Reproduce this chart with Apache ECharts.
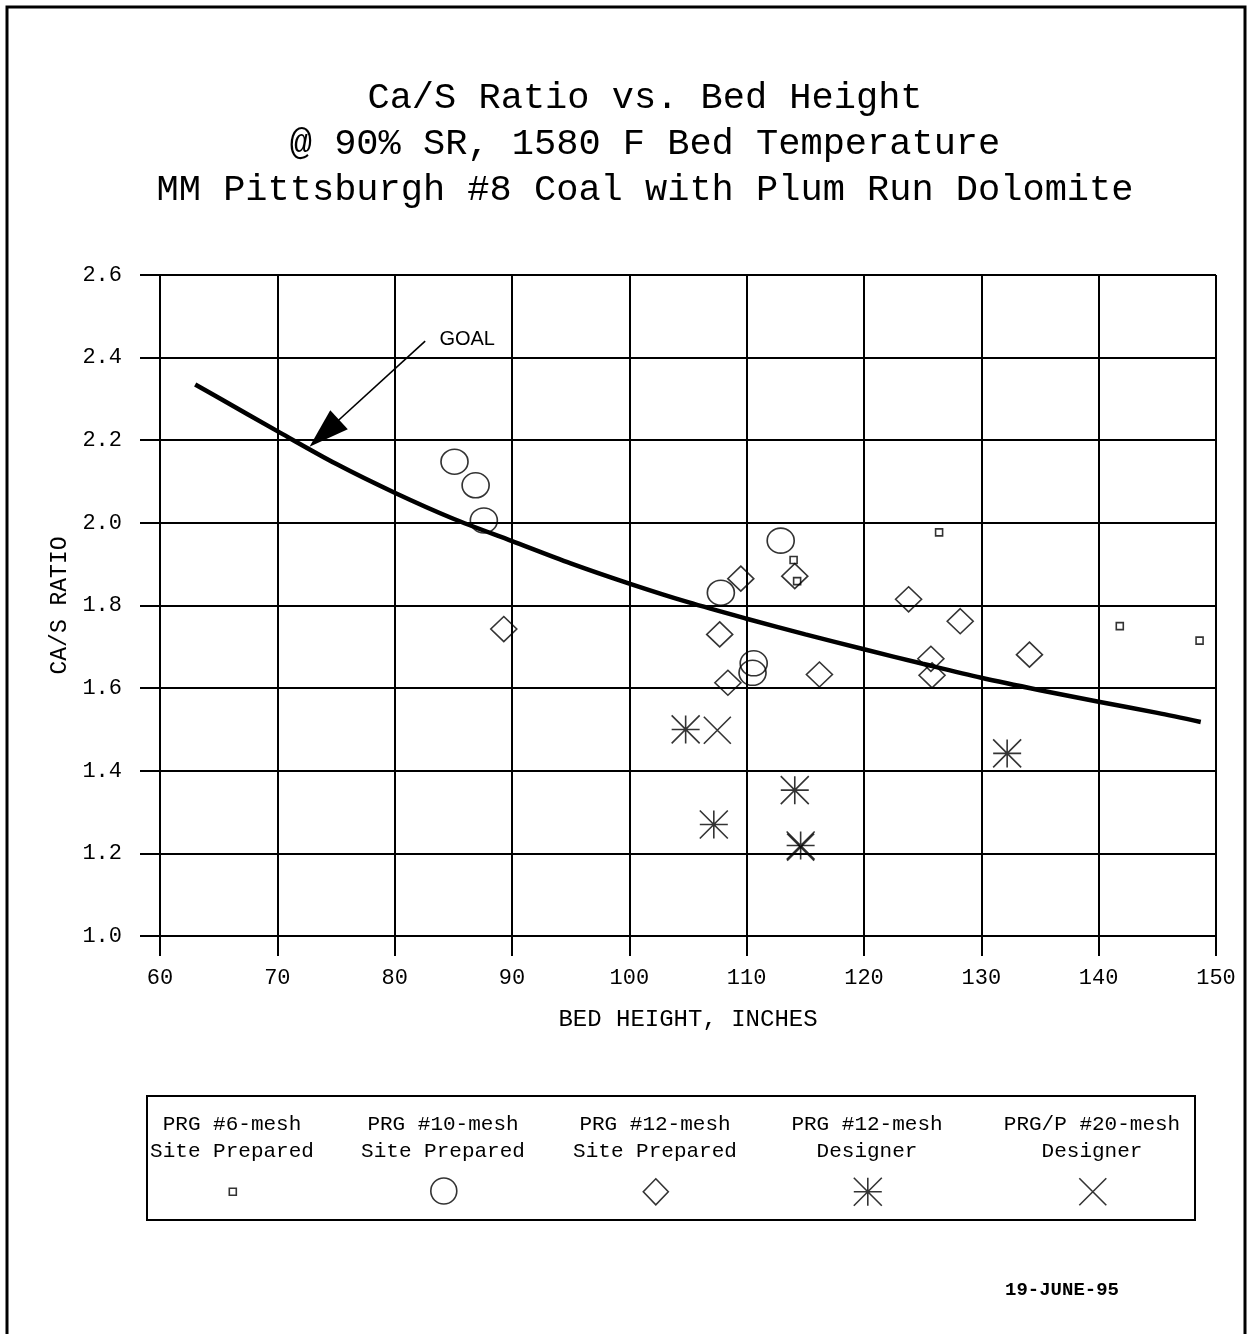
<!DOCTYPE html>
<html>
<head>
<meta charset="utf-8">
<title>Ca/S Ratio vs. Bed Height</title>
<script src="https://cdn.jsdelivr.net/npm/echarts@6/dist/echarts.min.js"></script>
<style>
  html, body { margin: 0; padding: 0; background: #fff; }
  #chart { width: 1249px; height: 1334px; }
</style>
</head>
<body>
<div id="chart"></div>
<script>
// Axis ticks
const xTicks = [60, 70, 80, 90, 100, 110, 120, 130, 140, 150];
const yTicks = ['1.0', '1.2', '1.4', '1.6', '1.8', '2.0', '2.2', '2.4', '2.6'];

// PRG #6-mesh, site prepared
const mesh6SiteX = [126.4, 114.0, 114.3, 141.8, 148.6];
const mesh6SiteY = [1.977, 1.910, 1.859, 1.750, 1.715];

// PRG #10-mesh, site prepared
const mesh10SiteX = [85.1, 86.9, 87.6, 112.9, 107.8, 110.6, 110.5];
const mesh10SiteY = [2.148, 2.091, 2.006, 1.957, 1.831, 1.660, 1.637];

// PRG #12-mesh, site prepared
const mesh12SiteX = [89.3, 109.5, 114.1, 107.7, 108.4, 116.2, 123.8, 128.2, 125.7, 125.8, 134.1];
const mesh12SiteY = [1.743, 1.865, 1.871, 1.730, 1.613, 1.633, 1.815, 1.762, 1.671, 1.631, 1.681];

// PRG #12-mesh, designer
const mesh12DesX = [104.8, 107.2, 114.1, 114.6, 132.2];
const mesh12DesY = [1.500, 1.270, 1.353, 1.219, 1.442];

// PRG/P #20-mesh, designer
const mesh20DesX = [107.5, 114.6];
const mesh20DesY = [1.498, 1.215];

// Goal curve
const goalX = [63, 65, 70, 75, 80, 85, 90, 95, 100, 105, 110, 115, 120, 125, 130, 135, 140, 145, 148.7];
const goalY = [2.335, 2.303, 2.222, 2.143, 2.073, 2.010, 1.956, 1.902, 1.853, 1.808, 1.768, 1.730, 1.694, 1.659, 1.625, 1.595, 1.567, 1.540, 1.518];

// "GOAL" callout: arrow tail, arrow head, label anchor (data units)
const goalArrowFrom = [82.6, 2.440];
const goalArrowTo = [74.0, 2.217];
const goalLabelAt = [83.6, 2.443];

// Legend rows
const legendLine1 = ['PRG #6-mesh', 'PRG #10-mesh', 'PRG #12-mesh', 'PRG #12-mesh', 'PRG/P #20-mesh'];
const legendLine2 = ['Site Prepared', 'Site Prepared', 'Site Prepared', 'Designer', 'Designer'];

const zip = (xs, ys) => xs.map((x, i) => [x, ys[i]]);

const ASTERISK = 'path://M14 0L14 28M0 14L28 14M0 0L28 28M28 0L0 28';
const CROSS = 'path://M0 0L28 28M28 0L0 28';

const seriesDefs = [
  { name: 'PRG #6-mesh Site Prepared', x: mesh6SiteX, y: mesh6SiteY, symbol: 'rect', size: 7, legendW: 7, legendH: 7 },
  { name: 'PRG #10-mesh Site Prepared', x: mesh10SiteX, y: mesh10SiteY, symbol: 'circle', size: [27, 25], legendW: 26, legendH: 28 },
  { name: 'PRG #12-mesh Site Prepared', x: mesh12SiteX, y: mesh12SiteY, symbol: 'diamond', size: [26, 25], legendW: 25, legendH: 26 },
  { name: 'PRG #12-mesh Designer', x: mesh12DesX, y: mesh12DesY, symbol: ASTERISK, size: 28, legendW: 28, legendH: 28 },
  { name: 'PRG/P #20-mesh Designer', x: mesh20DesX, y: mesh20DesY, symbol: CROSS, size: 27, legendW: 27, legendH: 27 }
];

const legendCentersX = [232, 443, 655, 867, 1092];
const legendIconY = 1191;

const hollow = { color: 'rgba(0,0,0,0)', borderColor: '#000', borderWidth: 1.6 };

const scatterSeries = seriesDefs.map(d => ({
  name: d.name,
  type: 'scatter',
  data: zip(d.x, d.y),
  symbol: d.symbol,
  symbolSize: d.size,
  itemStyle: hollow,
  emphasis: { disabled: true },
  z: 3
}));

const goalSeries = {
  name: 'Goal',
  type: 'line',
  data: zip(goalX, goalY),
  smooth: 0.3,
  symbol: 'none',
  lineStyle: { color: '#000', width: 4.5 },
  z: 4,
  markLine: {
    silent: true,
    animation: false,
    label: { show: false },
    lineStyle: { color: '#000', width: 1.6, type: 'solid' },
    data: [[
      { coord: goalArrowFrom, symbol: 'none', symbolSize: 0 },
      { coord: goalArrowTo, symbol: 'triangle', symbolSize: [26, 40] }
    ]]
  },
  markPoint: {
    silent: true,
    animation: false,
    symbol: 'circle',
    symbolSize: 1,
    itemStyle: { color: 'rgba(0,0,0,0)' },
    label: {
      show: true,
      position: 'right',
      distance: 2,
      formatter: 'GOAL',
      color: '#000',
      fontFamily: 'Liberation Sans',
      fontSize: 20
    },
    data: [{ coord: goalLabelAt }]
  }
};

const legends = seriesDefs.map((d, i) => ({
  data: [d.name],
  left: legendCentersX[i] - d.legendW / 2,
  top: legendIconY - d.legendH / 2,
  itemWidth: d.legendW,
  itemHeight: d.legendH,
  itemGap: 0,
  padding: 0,
  selectedMode: false,
  formatter: () => '',
  textStyle: { fontSize: 1 },
  itemStyle: { borderWidth: 1.6 }
}));

const legendTexts = [];
legendLine1.forEach((t, i) => {
  [t, legendLine2[i]].forEach((s, row) => {
    legendTexts.push({
      type: 'text',
      x: legendCentersX[i],
      y: row === 0 ? 1124 : 1151,
      silent: true,
      style: {
        text: s,
        fill: '#000',
        fontFamily: 'Liberation Mono',
        fontSize: 21,
        align: 'center',
        verticalAlign: 'middle',
        textAlign: 'center',
        textVerticalAlign: 'middle'
      }
    });
  });
});

const option = {
  backgroundColor: '#fff',
  animation: false,
  title: {
    text: 'Ca/S Ratio vs. Bed Height\n@ 90% SR, 1580 F Bed Temperature\nMM Pittsburgh #8 Coal with Plum Run Dolomite',
    left: 645,
    top: 75,
    padding: 0,
    textAlign: 'center',
    textStyle: {
      fontFamily: 'Liberation Mono',
      fontWeight: 'normal',
      fontSize: 37,
      lineHeight: 46,
      color: '#000',
      align: 'center'
    }
  },
  grid: { left: 160, right: 33, top: 275, bottom: 398, containLabel: false },
  legend: legends,
  xAxis: {
    type: 'value',
    min: xTicks[0],
    max: xTicks[xTicks.length - 1],
    interval: xTicks[1] - xTicks[0],
    name: 'BED HEIGHT, INCHES',
    nameLocation: 'middle',
    nameGap: 72,
    nameTextStyle: { fontFamily: 'Liberation Mono', fontSize: 24, color: '#000' },
    axisLine: { show: true, lineStyle: { color: '#000', width: 2 } },
    axisTick: { show: true, inside: false, length: 20, lineStyle: { color: '#000', width: 2 } },
    axisLabel: { margin: 31, fontFamily: 'Liberation Mono', fontSize: 22, color: '#000' },
    splitLine: { show: true, lineStyle: { color: '#000', width: 2 } }
  },
  yAxis: {
    type: 'value',
    min: Number(yTicks[0]),
    max: Number(yTicks[yTicks.length - 1]),
    interval: 0.2,
    name: 'CA/S RATIO',
    nameLocation: 'middle',
    nameGap: 85,
    nameRotate: 90,
    nameTextStyle: { fontFamily: 'Liberation Mono', fontSize: 23, color: '#000' },
    axisLine: { show: true, lineStyle: { color: '#000', width: 2 } },
    axisTick: { show: true, inside: false, length: 20, lineStyle: { color: '#000', width: 2 } },
    axisLabel: {
      margin: 38,
      fontFamily: 'Liberation Mono',
      fontSize: 22,
      color: '#000',
      formatter: v => yTicks.find(t => Math.abs(Number(t) - v) < 1e-6) || v.toFixed(1)
    },
    splitLine: { show: true, lineStyle: { color: '#000', width: 2 } }
  },
  series: [goalSeries].concat(scatterSeries),
  graphic: [
    {
      type: 'rect',
      silent: true,
      shape: { x: 7, y: 7, width: 1238, height: 1345 },
      style: { fill: 'none', stroke: '#000', lineWidth: 3 }
    },
    {
      type: 'rect',
      silent: true,
      shape: { x: 147, y: 1096, width: 1048, height: 124 },
      style: { fill: 'none', stroke: '#000', lineWidth: 2 }
    },
    {
      type: 'text',
      silent: true,
      x: 1005,
      y: 1290,
      style: {
        text: '19-JUNE-95',
        fill: '#000',
        fontFamily: 'Liberation Mono',
        fontWeight: 'bold',
        fontSize: 19,
        align: 'left',
        verticalAlign: 'middle',
        textAlign: 'left',
        textVerticalAlign: 'middle'
      }
    }
  ].concat(legendTexts)
};

const chart = echarts.init(document.getElementById('chart'), null, { renderer: 'canvas' });
chart.setOption(option);
</script>
</body>
</html>
